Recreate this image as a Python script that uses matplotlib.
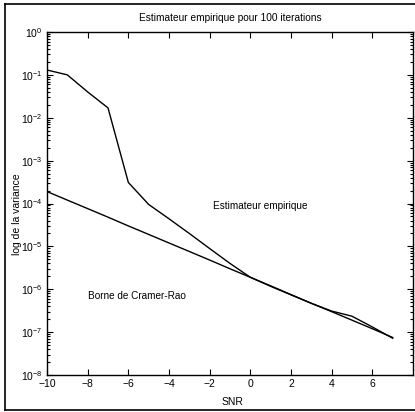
import matplotlib
matplotlib.use("Agg")
import matplotlib.pyplot as plt
from matplotlib.ticker import LogLocator, NullFormatter, FixedLocator
from matplotlib.lines import Line2D

plt.rcParams['font.family'] = ['Liberation Sans', 'DejaVu Sans']

snr = [-10, -9, -8, -7, -6, -5, -4, -3, -2, -1, 0, 1, 2, 3, 4, 5, 6, 7]
var_empirique = [1.3e-1, 1.0e-1, 4.0e-2, 1.7e-2, 3.1e-4, 9.5e-5, 4.4e-5, 2.0e-5,
                 8.9e-6, 4.0e-6, 1.9e-6, 1.17e-6, 7.4e-7, 4.7e-7, 3.1e-7,
                 2.35e-7, 1.32e-7, 7.2e-8]
borne_crb = [1.9e-4, 1.2e-4, 7.6e-5, 4.8e-5, 3.0e-5, 1.9e-5, 1.2e-5, 7.6e-6,
             4.8e-6, 3.0e-6, 1.9e-6, 1.2e-6, 7.5e-7, 4.7e-7, 3.0e-7, 1.9e-7,
             1.2e-7, 7.5e-8]
xtick_vals = [-10, -8, -6, -4, -2, 0, 2, 4, 6]

title = "Estimateur empirique pour 100 iterations"
xlabel = "SNR"
ylabel = "log de la variance"
lab_emp = "Estimateur empirique"
lab_crb = "Borne de Cramer-Rao"

fig = plt.figure(figsize=(4.15, 4.12), dpi=100)
ax = fig.add_axes([47/415, 37/412, 366/415, 343/412])

ax.plot(snr, var_empirique, color='black', lw=1.0)
ax.plot(snr, borne_crb, color='black', lw=1.0)

ax.set_yscale('log')
ax.set_xlim(-10, 8)
ax.set_ylim(1e-8, 1e0)
ax.xaxis.set_major_locator(FixedLocator(xtick_vals))
ax.yaxis.set_major_locator(LogLocator(base=10, numticks=20))
ax.yaxis.set_minor_locator(LogLocator(base=10, subs=range(2, 10), numticks=20))
ax.yaxis.set_minor_formatter(NullFormatter())
ax.tick_params(which='both', direction='in', top=True, right=True, labelsize=7.5,
               width=0.8, colors='black')
ax.tick_params(which='major', length=4, pad=3)
ax.tick_params(which='minor', length=2)
for s in ax.spines.values():
    s.set_linewidth(1.0)

ax.set_title(title, fontsize=7.3, pad=8)
ax.set_xlabel(xlabel, fontsize=7.5)
ax.set_ylabel(ylabel, fontsize=7.5)
ax.xaxis.set_label_coords(0.508, -0.064)
ax.yaxis.set_label_coords(-0.068, 0.47)

ax.text(0.48, 10**-4.05, lab_emp, fontsize=7.2, ha='center', va='center')
ax.text(-5.57, 10**-6.16, lab_crb, fontsize=7.2, ha='center', va='center')

# scan frame around the figure
fig.add_artist(Line2D([5/415, 5/415], [2/412, 408/412], transform=fig.transFigure,
                      color='black', lw=1.2))
fig.add_artist(Line2D([5/415, 1.0], [408/412, 408/412], transform=fig.transFigure,
                      color='black', lw=1.2))
fig.add_artist(Line2D([5/415, 1.0], [2/412, 2/412], transform=fig.transFigure,
                      color='black', lw=1.2))

fig.savefig("out.png", dpi=100)
